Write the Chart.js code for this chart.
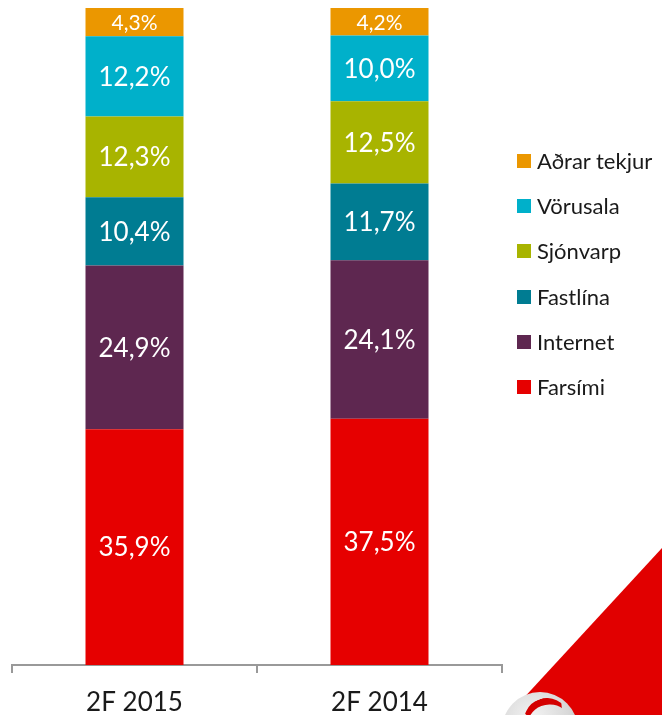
<!DOCTYPE html>
<html>
<head>
<meta charset="utf-8">
<script src="https://cdn.jsdelivr.net/npm/chart.js@4/dist/chart.umd.min.js"></script>
<style>
  html, body { margin: 0; padding: 0; background: #fff; overflow: hidden; }
  #wrap { position: relative; width: 662px; height: 715px; }
  #wrap canvas { position: absolute; left: 0; top: 0; }
  #legend { position: absolute; left: 517px; top: 147px; font-family: Lato, "Noto Sans", sans-serif; font-size: 22px; color: #1a1a1a; }
  #legend .item { height: 45.2px; display: flex; align-items: flex-start; }
  #legend .box { width: 14px; height: 14px; margin: 7px 6px 0 0; }
  #corner { position: absolute; left: 0; top: 0; width: 662px; height: 715px; background: #e10000;
            clip-path: polygon(662px 548px, 662px 715px, 508px 715px); }
  #ball { position: absolute; left: 502px; top: 692px; width: 76px; height: 76px; border-radius: 50%;
          background: radial-gradient(circle at 40% 35%, #f4f4f4 0%, #d8d8d8 55%, #a9a9a9 100%); overflow: hidden; }
  #ball .mark { position: absolute; left: 22px; top: 6px; width: 40px; height: 40px; border-radius: 50%;
                border-top: 7px solid #d40000; border-left: 4px solid transparent; border-right: 2px solid transparent; transform: rotate(-20deg); }
</style>
</head>
<body>
<div id="wrap">
  <div id="corner"></div>
  <div id="ball"><div class="mark"></div></div>
  <canvas id="chart" width="662" height="715"></canvas>
  <div id="legend"></div>
</div>
<script>
// Revenue split by segment, percent of total
const periods = ["2F 2015", "2F 2014"];
const segments = ["Farsími", "Internet", "Fastlína", "Sjónvarp", "Vörusala", "Aðrar tekjur"];
const farsimi = [35.9, 37.5];
const internet = [24.9, 24.1];
const fastlina = [10.4, 11.7];
const sjonvarp = [12.3, 12.5];
const vorusala = [12.2, 10.0];
const adrarTekjur = [4.3, 4.2];
const colors = ["#e60000", "#5e2750", "#007c92", "#a8b400", "#00b0ca", "#eb9700"];

const seriesValues = [farsimi, internet, fastlina, sjonvarp, vorusala, adrarTekjur];

// white percentage labels in the middle of each segment
const segmentLabels = {
  id: "segmentLabels",
  afterDatasetsDraw(chart) {
    const ctx = chart.ctx;
    ctx.save();
    ctx.fillStyle = "#ffffff";
    ctx.textAlign = "center";
    ctx.textBaseline = "middle";
    chart.data.datasets.forEach((ds, i) => {
      const meta = chart.getDatasetMeta(i);
      meta.data.forEach((bar, j) => {
        const h = Math.abs(bar.base - bar.y);
        const size = h < 40 ? 21 : 26;
        ctx.font = size + "px Lato, 'Noto Sans', sans-serif";
        const txt = ds.data[j].toFixed(1).replace(".", ",") + "%";
        ctx.fillText(txt, bar.x, (bar.y + bar.base) / 2 + 1);
      });
    });
    ctx.restore();
  }
};

const ctx = document.getElementById("chart").getContext("2d");
const chart = new Chart(ctx, {
  type: "bar",
  data: {
    labels: periods,
    datasets: segments.map((name, i) => ({
      label: name,
      data: seriesValues[i],
      backgroundColor: colors[i],
      borderWidth: 0,
      categoryPercentage: 1,
      barPercentage: 0.4
    }))
  },
  options: {
    responsive: false,
    animation: false,
    layout: { padding: { left: 12, right: 160, top: 8, bottom: 0 } },
    plugins: {
      legend: { display: false },
      tooltip: { enabled: false }
    },
    scales: {
      x: {
        stacked: true,
        afterFit: (scale) => { scale.height = 50; },
        grid: {
          display: true,
          drawOnChartArea: false,
          drawTicks: true,
          tickLength: 8,
          color: "#999999",
          lineWidth: 2
        },
        border: { display: true, color: "#999999", width: 2 },
        ticks: {
          color: "#1a1a1a",
          padding: 17,
          font: { family: "Lato, 'Noto Sans', sans-serif", size: 26, lineHeight: 1 }
        }
      },
      y: {
        stacked: true,
        display: false,
        min: 0,
        max: 100
      }
    }
  },
  plugins: [segmentLabels]
});

// legend, top item is the top segment
const legendEl = document.getElementById("legend");
segments.slice().reverse().forEach((name, k) => {
  const i = segments.length - 1 - k;
  const item = document.createElement("div");
  item.className = "item";
  const box = document.createElement("span");
  box.className = "box";
  box.style.background = colors[i];
  const label = document.createElement("span");
  label.textContent = name;
  item.appendChild(box);
  item.appendChild(label);
  legendEl.appendChild(item);
});
</script>
</body>
</html>
